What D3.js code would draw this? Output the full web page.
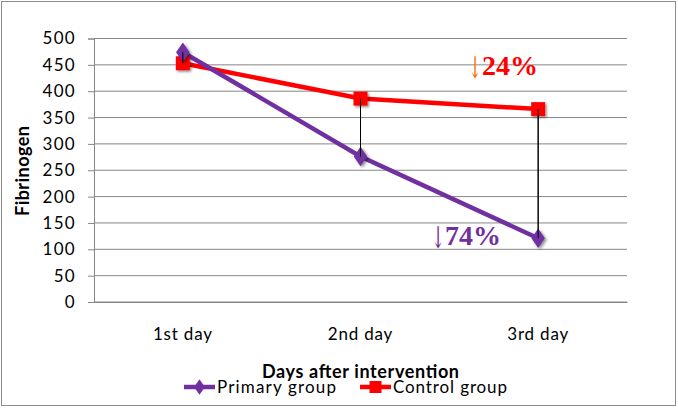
<!DOCTYPE html>
<html>
<head>
<meta charset="utf-8">
<script src="https://cdn.jsdelivr.net/npm/d3@7"></script>
<style>
  body { margin: 0; background: #fff; }
  text { font-family: Lato, "Open Sans", sans-serif; }
</style>
</head>
<body>
<div class="chart"></div>
<script>
// data
var days = ["1st day", "2nd day", "3rd day"];
var primaryGroup = [474, 276, 121];
var controlGroup = [453, 386, 366];
var yTicks = [0, 50, 100, 150, 200, 250, 300, 350, 400, 450, 500];

var svgWidth = 678;
var svgHeight = 408;
var margin = { top: 38.5, right: 51, bottom: 106, left: 94 };
var width = svgWidth - margin.left - margin.right;
var height = svgHeight - margin.top - margin.bottom;

var svg = d3.select(".chart").append("svg")
  .attr("width", svgWidth)
  .attr("height", svgHeight);

// shadow for markers
var defs = svg.append("defs");
var f = defs.append("filter").attr("id", "shadow").attr("x", "-50%").attr("y", "-50%").attr("width", "200%").attr("height", "200%");
f.append("feDropShadow").attr("dx", 1.5).attr("dy", 1.5).attr("stdDeviation", 1.2).attr("flood-color", "#000").attr("flood-opacity", 0.45);

// outer border
svg.append("rect")
  .attr("x", 1.5).attr("y", 1.5)
  .attr("width", svgWidth - 4).attr("height", svgHeight - 4)
  .attr("fill", "#fff").attr("stroke", "#8c8c8c").attr("stroke-width", 1);

var chartGroup = svg.append("g")
  .attr("transform", `translate(${margin.left}, ${margin.top})`);

var x = d3.scaleBand().domain(days).range([0, width]);
var y = d3.scaleLinear().domain([0, 500]).range([height, 0]);

// gridlines
chartGroup.append("g").selectAll("line")
  .data(yTicks)
  .enter().append("line")
  .attr("x1", 0).attr("x2", width)
  .attr("y1", d => y(d)).attr("y2", d => y(d))
  .attr("stroke", "#868686").attr("stroke-width", 1);

// y axis
var yAxis = chartGroup.append("g")
  .call(d3.axisLeft(y).tickValues(yTicks).tickSize(6).tickPadding(12));
yAxis.select(".domain").attr("stroke", "#868686");
yAxis.selectAll(".tick line").attr("stroke", "#868686");
yAxis.selectAll("text").attr("font-size", 17).attr("fill", "#000")
  .style("font-family", "Lato, sans-serif").style("letter-spacing", "1.3px");

// x axis
var xAxis = chartGroup.append("g")
  .attr("transform", `translate(0, ${height})`)
  .call(d3.axisBottom(x).tickSize(0).tickPadding(26));
xAxis.select(".domain").attr("stroke", "#868686");
xAxis.selectAll("text").attr("font-size", 17).attr("fill", "#000")
  .style("font-family", "Lato, sans-serif").style("letter-spacing", "0.8px");

// axis titles
svg.append("text")
  .attr("transform", "translate(29, 171) rotate(-90)")
  .attr("text-anchor", "middle")
  .attr("font-size", 18).attr("font-weight", "bold")
  .attr("textLength", 90).attr("lengthAdjust", "spacing")
  .text("Fibrinogen");

svg.append("text")
  .attr("x", 262).attr("y", 378)
  .attr("font-size", 18).attr("font-weight", "bold")
  .attr("textLength", 197).attr("lengthAdjust", "spacing")
  .text("Days after intervention");

// high-low lines
chartGroup.append("g").selectAll("line")
  .data(days)
  .enter().append("line")
  .attr("x1", d => x(d) + x.bandwidth() / 2)
  .attr("x2", d => x(d) + x.bandwidth() / 2)
  .attr("y1", (d, i) => y(primaryGroup[i]))
  .attr("y2", (d, i) => y(controlGroup[i]))
  .attr("stroke", "#000").attr("stroke-width", 1);

var line = d3.line()
  .x((d, i) => x(days[i]) + x.bandwidth() / 2)
  .y(d => y(d));

// control series
chartGroup.append("path")
  .datum(controlGroup)
  .attr("d", line)
  .attr("fill", "none").attr("stroke", "#ff0000").attr("stroke-width", 4.5);

// primary series
chartGroup.append("path")
  .datum(primaryGroup)
  .attr("d", line)
  .attr("fill", "none").attr("stroke", "#7030a0").attr("stroke-width", 4.5);

chartGroup.append("g").selectAll("rect")
  .data(controlGroup)
  .enter().append("rect")
  .attr("x", (d, i) => x(days[i]) + x.bandwidth() / 2 - 7)
  .attr("y", d => y(d) - 7)
  .attr("width", 14).attr("height", 14)
  .attr("fill", "#ff0000")
  .attr("filter", "url(#shadow)");

chartGroup.append("g").selectAll("path")
  .data(primaryGroup)
  .enter().append("path")
  .attr("d", d3.symbol().type(d3.symbolDiamond).size(110))
  .attr("transform", (d, i) => `translate(${x(days[i]) + x.bandwidth() / 2}, ${y(d)}) scale(1.2, 1)`)
  .attr("fill", "#7030a0")
  .attr("filter", "url(#shadow)");

// high-low lines show through the markers
chartGroup.append("g").selectAll("line")
  .data(days)
  .enter().append("line")
  .attr("x1", d => x(d) + x.bandwidth() / 2)
  .attr("x2", d => x(d) + x.bandwidth() / 2)
  .attr("y1", (d, i) => y(primaryGroup[i]))
  .attr("y2", (d, i) => y(controlGroup[i]))
  .attr("stroke", "#000").attr("stroke-width", 1);

// annotations
function note(xp, yp, arrowColor, color, label) {
  var t = svg.append("text")
    .attr("x", xp).attr("y", yp)
    .style("font-family", "'Liberation Serif', serif")
    .attr("fill", color);
  t.append("tspan").attr("fill", arrowColor).attr("font-size", 30)
    .style("font-family", "'DejaVu Serif', serif").attr("dy", 3)
    .attr("textLength", 14).attr("lengthAdjust", "spacingAndGlyphs")
    .text("↓");
  t.append("tspan").attr("font-size", 28).attr("font-weight", "bold").attr("dy", -3)
    .text(label);
}
note(468, 75, "#ff6a00", "#ff0000", "24%");
note(431, 245, "#7030a0", "#7030a0", "74%");

// legend
var legend = svg.append("g");
var items = [
  { name: "Primary group", color: "#7030a0", type: "diamond", x: 184, w: 119 },
  { name: "Control group", color: "#ff0000", type: "square", x: 360, w: 114 }
];
items.forEach(function(it) {
  var g = legend.append("g").attr("transform", `translate(${it.x}, 387)`);
  g.append("line").attr("x1", 0).attr("x2", 31).attr("y1", 0).attr("y2", 0)
    .attr("stroke", it.color).attr("stroke-width", 4.5);
  if (it.type === "diamond") {
    g.append("path").attr("d", d3.symbol().type(d3.symbolDiamond).size(70))
      .attr("transform", "translate(15.5,0) scale(1.2,1)").attr("fill", it.color);
  } else {
    g.append("rect").attr("x", 9.5).attr("y", -6).attr("width", 12).attr("height", 12)
      .attr("fill", it.color);
  }
  g.append("text").attr("x", 33).attr("y", 6)
    .attr("font-size", 17)
    .attr("textLength", it.w).attr("lengthAdjust", "spacing")
    .text(it.name);
});
</script>
</body>
</html>
